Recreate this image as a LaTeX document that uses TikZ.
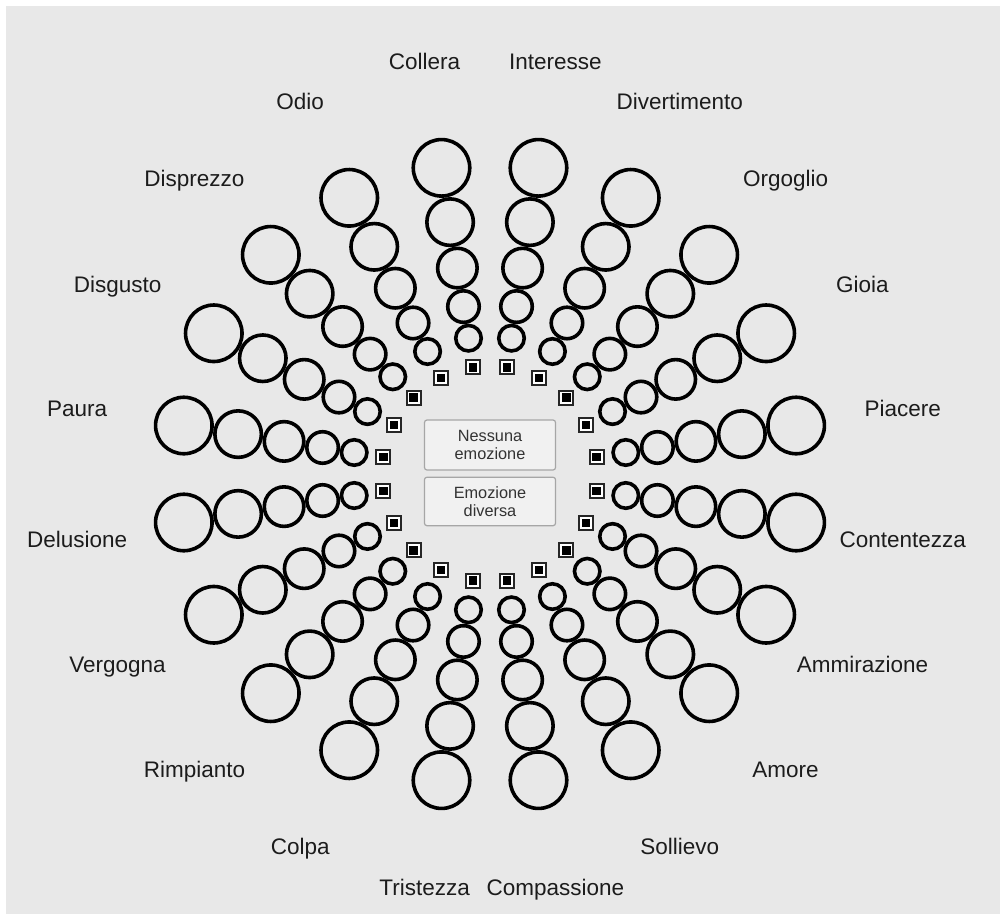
\documentclass[tikz,border=0pt]{standalone}
\usepackage{fontspec}
\setmainfont{Liberation Sans}
\usetikzlibrary{positioning}
\definecolor{wheelbg}{HTML}{E8E8E8}
\definecolor{boxfill}{HTML}{F1F1F1}
\definecolor{boxline}{HTML}{A6A6A6}
\definecolor{inktext}{HTML}{1C1C1C}

\tikzset{
  ring/.style={circle,draw=black,line width=3.6pt,inner sep=0pt,minimum size=#1pt},
  pick/.style={rectangle,draw=black!85,fill=white,line width=1.8pt,inner sep=0pt,minimum size=14pt},
  pickdot/.style={rectangle,fill=black,inner sep=0pt,minimum size=8.5pt},
  emotion/.style={text=inktext,font=\fontsize{22.5}{26}\selectfont,inner sep=0pt,
    text height=16pt,text depth=4.5pt,yshift=-2.5pt},
  choice/.style={rectangle,rounded corners=2.5pt,draw=boxline,fill=boxfill,line width=1.2pt,
    minimum width=131pt,align=center,text=black!80,font=\fontsize{16.3}{18.5}\selectfont}
}

\begin{document}
\begin{tikzpicture}[x=1pt,y=1pt]

\useasboundingbox (-490,474) rectangle (510,-440);
\fill[wheelbg] (-484,468) rectangle (510,-440);

% one spoke per emotion, counter-clockwise from the right
\foreach \name [count=\i] in {Piacere,Gioia,Orgoglio,Divertimento,Interesse,Collera,Odio,Disprezzo,Disgusto,Paura,Delusione,Vergogna,Rimpianto,Colpa,Tristezza,Compassione,Sollievo,Amore,Ammirazione,Contentezza}{
  \pgfmathsetmacro\ang{18*\i-9}
  \node[pick] (s\i) at (\ang:108) {};
  \node[pickdot] at (s\i) {};
  \foreach \d/\s [count=\j] in {137.5/25.5,169.5/31.5,208.5/39.5,255/46.5,310/56.5}
    \node[ring=\s] (c\i-\j) at (\ang:\d) {};
  \node[emotion] (e\i) at (\ang:418) {\name};
}

\node[choice,minimum height=50pt] (none) at (0,29) {Nessuna\\emozione};
\node[choice,minimum height=48.5pt,below=6pt of none] (other) {Emozione\\diversa};

\end{tikzpicture}
\end{document}
